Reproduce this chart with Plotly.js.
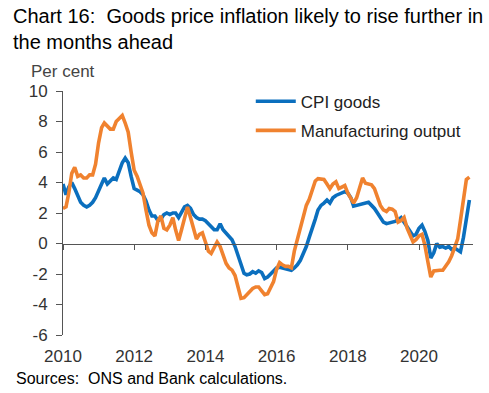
<!DOCTYPE html>
<html><head><meta charset="utf-8">
<script src="https://cdn.plot.ly/plotly-3.0.1.min.js"></script>
<style>html,body{margin:0;padding:0;background:#fff;}#chart{width:489px;height:393px;}</style>
</head><body><div id="chart"></div>
<script>
// Monthly data, Jan 2010 to Jun 2021 (annual % change)
const startYear = 2010;
const cpiGoods = [
  3.9, 3.2, 3.7, 4.0, 3.6, 3.1, 2.7, 2.5, 2.4, 2.5, 2.7, 3.0,
  3.4, 3.9, 4.3, 3.9, 4.1, 4.3, 4.2, 4.7, 5.3, 5.6, 5.3, 4.4,
  3.6, 3.5, 3.4, 3.2, 2.8, 2.2, 1.8, 1.8, 1.5, 1.6, 1.9, 2.0,
  1.9, 2.0, 2.0, 1.7, 2.0, 2.4, 2.5, 2.3, 1.9, 1.7, 1.6, 1.6,
  1.5, 1.3, 1.1, 0.9, 0.9, 1.3, 0.9, 0.7, 0.45, 0.25, -0.2, -0.8,
  -1.5, -1.95, -2.05, -2.0, -1.85, -1.95, -1.8, -1.9, -2.3, -2.2, -2.0, -1.8,
  -1.6, -1.55, -1.6, -1.6, -1.65, -1.75, -1.6, -1.4, -1.1, -0.7, -0.2, 0.4,
  0.95, 1.6, 2.2, 2.5, 2.65, 2.85, 2.65, 3.0, 3.15, 3.25, 3.3, 3.4,
  3.3, 3.0, 2.45, 2.5, 2.5, 2.6, 2.6, 2.7, 2.5, 2.3, 2.0, 1.7,
  1.4, 1.3, 1.35, 1.35, 1.45, 1.55, 1.7, 1.4, 1.05, 0.8, 0.5, 0.6,
  1.0, 1.2, 0.8, 0.2, -0.95, -0.6, 0.0, -0.25, -0.2, -0.3, -0.2, -0.4,
  -0.3, -0.4, -0.55, 0.4, 1.8, 2.85
];
const mfgOutput = [
  2.3, 2.4, 3.3, 4.6, 5.0, 4.4, 4.5, 4.3, 4.3, 4.5, 4.5, 5.2,
  6.6, 7.6, 7.9, 7.7, 7.5, 7.5, 8.0, 8.2, 8.4, 7.9, 7.3, 6.0,
  4.8, 4.4, 3.9, 3.3, 2.2, 1.2, 0.7, 0.5, 1.5, 1.8, 1.0, 0.9,
  1.2, 1.7, 0.9, 0.2, 0.9, 1.8, 2.4, 1.7, 1.0, 0.3, 0.6, 0.7,
  0.1, -0.5, -0.65, -0.3, 0.1, -0.2, -0.8, -1.3, -1.6, -1.75, -2.1, -2.9,
  -3.6, -3.55, -3.35, -3.15, -2.95, -2.85, -2.85, -3.1, -3.35, -3.3, -2.95, -2.5,
  -1.7, -1.25, -1.4, -1.5, -1.5, -1.6, -0.5, 0.3, 0.9, 1.7, 2.5, 2.9,
  3.5, 4.1, 4.25, 4.25, 4.2, 3.9, 3.6, 3.9, 4.05, 3.6, 3.7, 3.8,
  3.3, 2.9, 2.65, 3.0, 3.7, 4.3, 3.95, 3.9, 3.85, 3.6, 3.1, 2.5,
  2.2, 2.1, 2.3, 2.25, 2.1, 1.4, 1.5, 1.7, 1.0, 0.6, 0.1, 0.25,
  0.5, 0.6, -0.1, -1.2, -2.2, -1.8, -1.75, -1.75, -1.75, -1.5, -1.2, -0.8,
  -0.3, 0.3, 1.5, 3.1, 4.2, 4.35
];
const seriesNames = ['CPI goods', 'Manufacturing output'];
const xTickVals = ['2010-01-01', '2012-01-01', '2014-01-01', '2016-01-01', '2018-01-01', '2020-01-01'];
const xTickText = ['2010', '2012', '2014', '2016', '2018', '2020'];
const yTickVals = [-6, -4, -2, 0, 2, 4, 6, 8, 10];
const yTickText = ['-6', '-4', '-2', '0', '2', '4', '6', '8', '10'];

const months = cpiGoods.map((_, i) => {
  const y = startYear + Math.floor(i / 12);
  const m = (i % 12) + 1;
  return y + '-' + String(m).padStart(2, '0') + '-01';
});

const FONT = 'Arial, "Liberation Sans", sans-serif';
const xRange = ['2010-01-01', '2021-07-08'];

const traces = [
  {x: months, y: cpiGoods, name: seriesNames[0], type: 'scatter', mode: 'lines',
   line: {color: '#0B6FBE', width: 3.6}, legendgroup: 'a', hoverinfo: 'skip'},
  {x: months, y: mfgOutput, name: seriesNames[1], type: 'scatter', mode: 'lines',
   line: {color: '#F0822F', width: 3.6}, legendgroup: 'b', hoverinfo: 'skip'},
  {x: [months[0]], y: [0], xaxis: 'x2', type: 'scatter', mode: 'lines',
   showlegend: false, hoverinfo: 'skip', line: {width: 0}, opacity: 0}
];

const layout = {
  width: 489, height: 393,
  margin: {l: 63, r: 16, t: 91, b: 58, pad: 0},
  paper_bgcolor: '#fff', plot_bgcolor: '#fff',
  showlegend: true,
  title: {
    text: 'Chart 16:\u00a0 Goods price inflation likely to rise further in<br>the months ahead',
    font: {family: FONT, size: 20, color: '#000'},
    x: 13 / 489, xanchor: 'left', xref: 'container',
    y: 1 - 23 / 393, yanchor: 'top', yref: 'container'
  },
  xaxis: {
    type: 'date', range: xRange, tickmode: 'array', tickvals: xTickVals, ticktext: xTickText,
    ticks: '', showline: false, showgrid: false, zeroline: false,
    tickfont: {family: FONT, size: 17, color: '#333'}, ticklabelstandoff: 9
  },
  xaxis2: {
    type: 'date', range: xRange, overlaying: 'x', anchor: 'free', position: 0.375, side: 'bottom',
    tickmode: 'array', tickvals: xTickVals, showticklabels: false,
    ticks: 'outside', ticklen: 5, tickcolor: '#555', tickwidth: 1,
    showline: true, linecolor: '#555', linewidth: 1, showgrid: false, zeroline: false
  },
  yaxis: {
    range: [-6, 10], tickmode: 'array', tickvals: yTickVals, ticktext: yTickText,
    ticks: 'outside', ticklen: 6, tickcolor: '#555', tickwidth: 1,
    showline: true, linecolor: '#555', linewidth: 1, showgrid: false, zeroline: false,
    tickfont: {family: FONT, size: 17, color: '#333'}, ticklabelstandoff: 5
  },
  legend: {
    x: 0.458, y: 1.03, xanchor: 'left', yanchor: 'top',
    font: {family: FONT, size: 17, color: '#222'},
    bgcolor: 'rgba(0,0,0,0)', itemwidth: 40, traceorder: 'grouped', tracegroupgap: 4
  },
  annotations: [
    {text: 'Per cent', xref: 'paper', yref: 'paper', x: (29 - 63) / 410, y: (335.3 - 71) / 244.6,
     xanchor: 'left', yanchor: 'middle', showarrow: false, font: {family: FONT, size: 17, color: '#444'}},
    {text: 'Sources:\u00a0 ONS and Bank calculations.', xref: 'paper', yref: 'paper',
     x: (14 - 63) / 410, y: (335.3 - 379) / 244.6, xanchor: 'left', yanchor: 'middle', showarrow: false,
     font: {family: FONT, size: 16, color: '#000'}}
  ]
};

Plotly.newPlot('chart', traces, layout, {displayModeBar: false, staticPlot: true});
</script>
</body></html>
